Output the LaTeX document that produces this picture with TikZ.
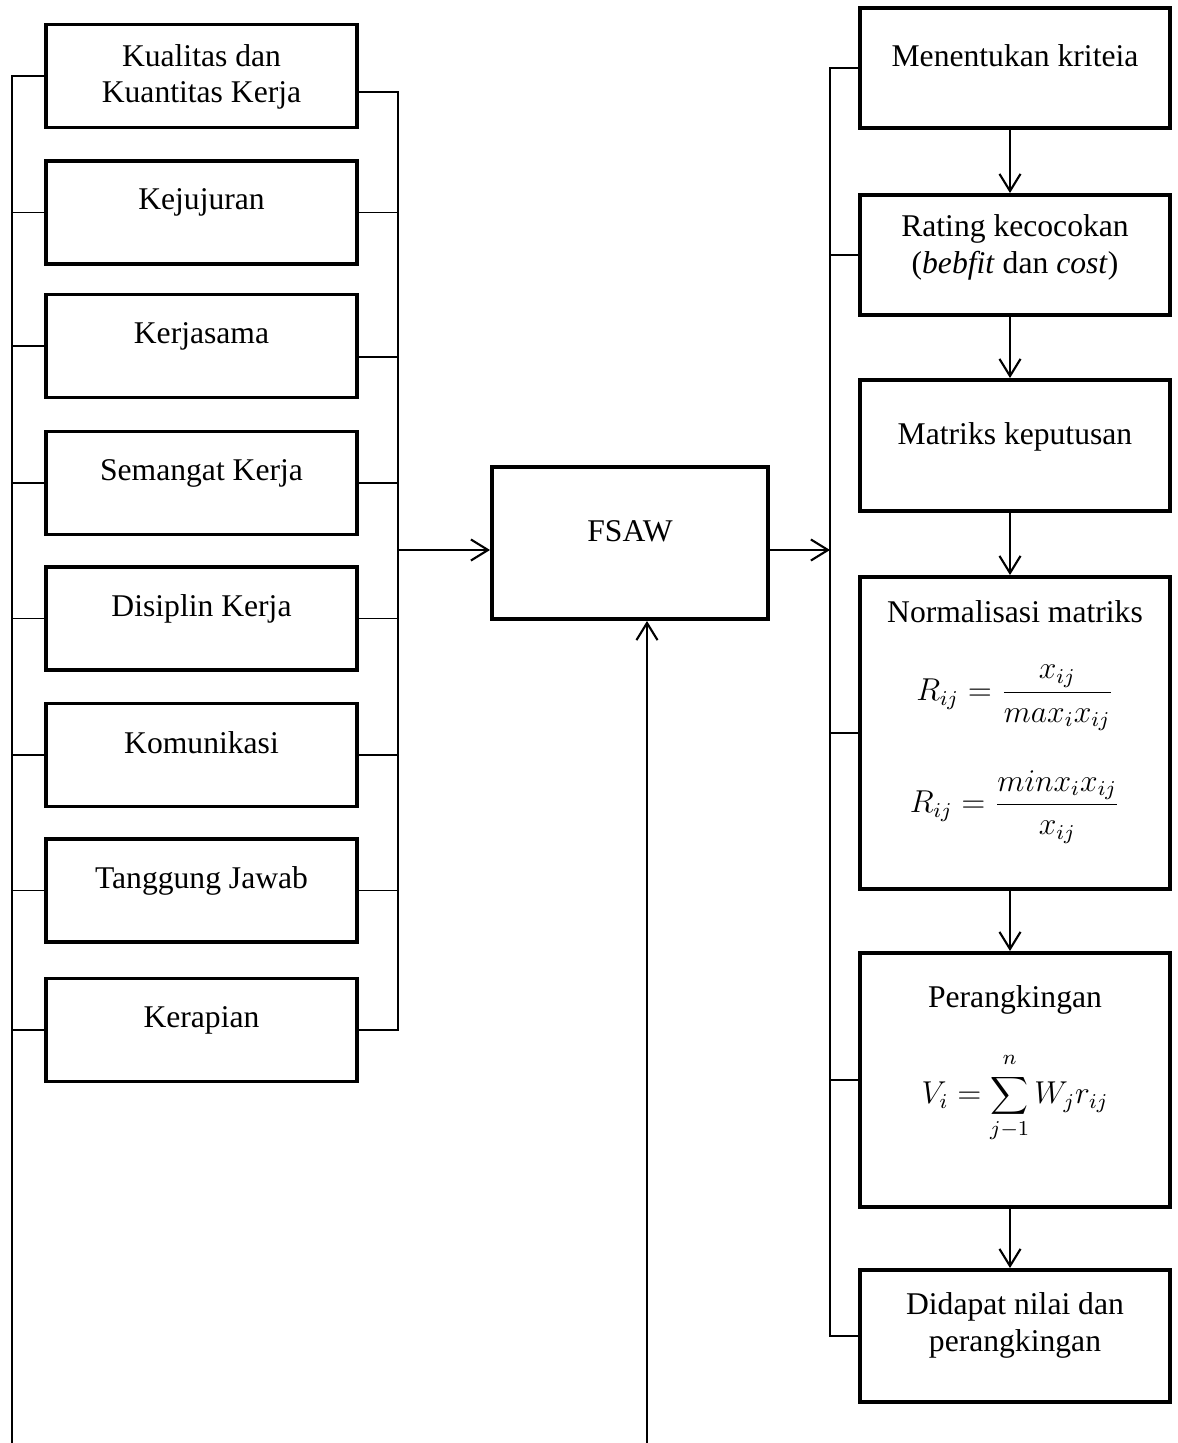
\documentclass[tikz,border=0pt]{standalone}
\usepackage{fontspec}
\setmainfont{Liberation Serif}
\usetikzlibrary{arrows.meta,calc}

\newlength{\pxu}
\setlength{\pxu}{0.013333cm}
% box contents: width, height, top padding, text
\newcommand{\cellbox}[4]{\parbox[c][#2\pxu][t]{#1\pxu}{\centering\vspace*{#3\pxu}#4\par}}

\begin{document}
\begin{tikzpicture}[
      x=0.013333cm, y=-0.013333cm,
      box/.style={draw, line width=1.5pt, inner sep=0pt,
        font=\fontsize{12pt}{13.8pt}\selectfont},
      link/.style={line width=0.5pt},
      flow/.style={line width=0.8pt, -{Straight Barb[length=6.5pt, width=8pt]}},
    ]
    \useasboundingbox (0,0) rectangle (1178,1443);

    % criteria
    \node[box] (k1) at (201.5,  76) {\cellbox{311}{103}{20}{Kualitas dan\\Kuantitas Kerja}};
    \node[box] (k2) at (201.5, 212.5) {\cellbox{311}{103}{28}{Kejujuran}};
    \node[box] (k3) at (201.5, 346) {\cellbox{311}{103}{28}{Kerjasama}};
    \node[box] (k4) at (201.5, 483) {\cellbox{311}{103}{28}{Semangat Kerja}};
    \node[box] (k5) at (201.5, 618.5) {\cellbox{311}{103}{28}{Disiplin Kerja}};
    \node[box] (k6) at (201.5, 755) {\cellbox{311}{103}{28}{Komunikasi}};
    \node[box] (k7) at (201.5, 890.5) {\cellbox{311}{103}{28}{Tanggung Jawab}};
    \node[box] (k8) at (201.5, 1030) {\cellbox{311}{103}{28}{Kerapian}};

    \node[box] (fsaw) at (630, 543) {\cellbox{276}{152}{54}{FSAW}};

    % steps
    \node[box] (s1) at (1015, 68) {\cellbox{310}{120}{37}{Menentukan kriteia}};
    \node[box] (s2) at (1015, 255) {\cellbox{310}{120}{20}{Rating kecocokan\\(\textit{bebfit} dan \textit{cost})}};
    \node[box] (s3) at (1015, 445.5) {\cellbox{310}{131}{43}{Matriks keputusan}};
    \node[box] (s4) at (1015, 733) {\cellbox{310}{312}{24}{Normalisasi matriks\par\vspace{41\pxu}
        $\displaystyle R_{ij}=\frac{x_{ij}}{max_i x_{ij}}$\par\vspace{37\pxu}
        $\displaystyle R_{ij}=\frac{minx_i x_{ij}}{x_{ij}}$}};
    \node[box] (s5) at (1015, 1080) {\cellbox{310}{254}{33}{Perangkingan\par\vspace{35\pxu}
        $\displaystyle V_i=\sum_{j-1}^{n\rule[-3pt]{0pt}{0pt}}W_j r_{ij}$}};
    \node[box] (s6) at (1015, 1336) {\cellbox{310}{132}{23}{Didapat nilai dan\\perangkingan}};

    \coordinate (lbot) at (12, 1443);
    \coordinate (jl) at (398, 550);
    \coordinate (jr) at (830, 550);
    \coordinate (fbot) at (647, 1443);

    % left bracket
    \draw[link] (k1.west) -| (lbot);
    \foreach \k in {k2, k3, k4, k5, k6, k7, k8} \draw[link] (\k.west) -- (\k.west -| lbot);

    % right bracket
    \draw[link] ($(k1.east)+(0,16)$) -| (jl |- k8.east) -- (k8.east);
    \draw[link] ($(k3.east)+(0,11)$) coordinate (k3r) -- (k3r -| jl);
    \foreach \k in {k2, k4, k5, k6, k7} \draw[link] (\k.east) -- (\k.east -| jl);

    \draw[flow] (jl) -- (jl -| fsaw.west);
    \draw[flow] (jl -| fsaw.east) -- (jr);
    \draw[flow] (fbot) -- (fbot |- fsaw.south);

    % steps bracket
    \draw[link] (s1.west) -| (jr |- s6.west) -- (s6.west);
    \foreach \s in {s2, s4, s5} \draw[link] (\s.west) -- (\s.west -| jr);
    \foreach \a/\b in {s1/s2, s2/s3, s3/s4, s4/s5, s5/s6}
      \draw[flow] ($(\a.south)+(-5,0)$) -- ($(\b.north)+(-5,0)$);
  \end{tikzpicture}
\end{document}
